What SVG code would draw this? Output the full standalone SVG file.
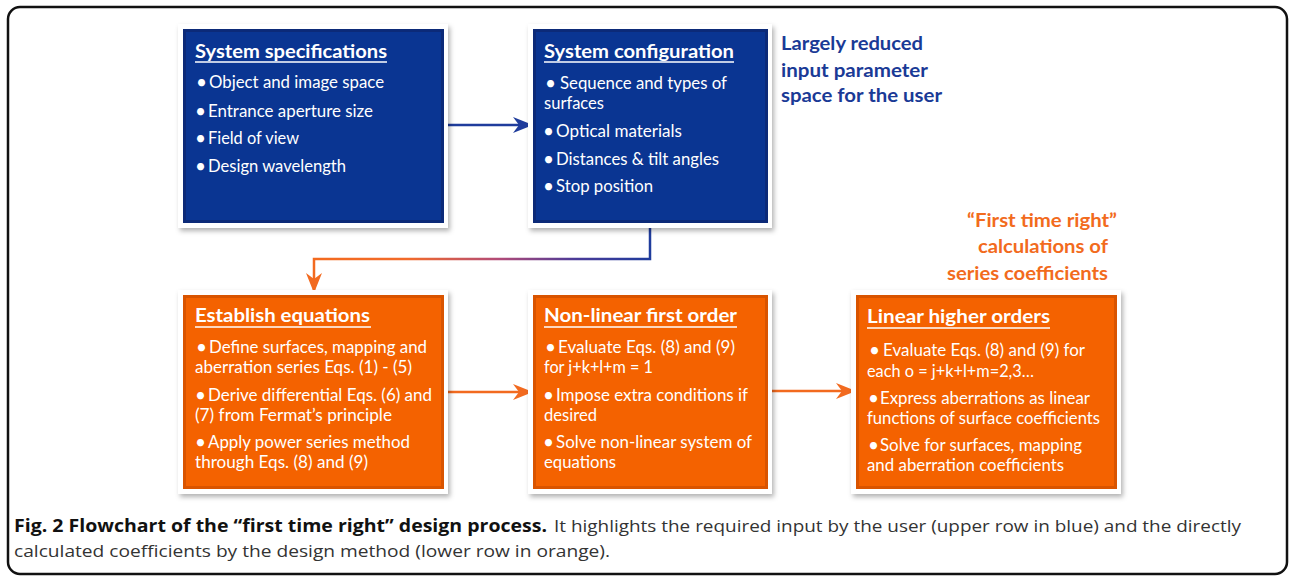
<svg xmlns="http://www.w3.org/2000/svg" width="1290" height="576" viewBox="0 0 1290 576">
<style>
.frame{fill:#fff;filter:url(#sh)}
.blue{fill:#0a3592;stroke:#0c2a78;stroke-width:3}
.orange{fill:#f46200;stroke:#d95400;stroke-width:3}
.t{font-family:Lato,"Open Sans",sans-serif;fill:#fff}
.h{font-size:19.5px;font-weight:bold}
.b{font-size:16.5px}
.d{font-size:19px}
.ul{stroke:#fff;stroke-width:1.6}
.lbl{font-family:Lato,"Open Sans",sans-serif;font-size:19px;font-weight:bold}
.cap{font-family:"Open Sans",Lato,sans-serif;font-size:17px}
</style>
<defs>
<filter id="sh" x="-10%" y="-10%" width="125%" height="125%">
<feDropShadow dx="2" dy="3" stdDeviation="2.5" flood-color="#000" flood-opacity="0.3"/>
</filter>
<linearGradient id="g" gradientUnits="userSpaceOnUse" x1="650" y1="0" x2="314" y2="0">
<stop offset="0" stop-color="#1f3c9c"/>
<stop offset="0.22" stop-color="#4a3a98"/>
<stop offset="0.45" stop-color="#b24b78"/>
<stop offset="0.72" stop-color="#f26a2a"/>
<stop offset="1" stop-color="#f36a1f"/>
</linearGradient>
<marker id="ab" viewBox="0 0 20 16" refX="19" refY="8" markerWidth="20" markerHeight="16" markerUnits="userSpaceOnUse" orient="auto">
<path d="M0,0 L20,8 L0,16 L6,8 Z" fill="#1f3c9c"/>
</marker>
<marker id="ao" viewBox="0 0 20 16" refX="19" refY="8" markerWidth="20" markerHeight="16" markerUnits="userSpaceOnUse" orient="auto">
<path d="M0,0 L20,8 L0,16 L6,8 Z" fill="#f26a1f"/>
</marker>
</defs>
<rect x="8" y="7" width="1279" height="567" rx="12" fill="#fff" stroke="#111" stroke-width="2.5"/>

<g id="connectors" fill="none">
<path d="M445,125 H532" stroke="#1f3c9c" stroke-width="2.5" marker-end="url(#ab)"/>
<path d="M650,223 V259 H314 V292" stroke="url(#g)" stroke-width="2.5" marker-end="url(#ao)"/>
<path d="M444,392 H532" stroke="#f26a1f" stroke-width="2.5" marker-end="url(#ao)"/>
<path d="M767,391 H855" stroke="#f26a1f" stroke-width="2.5" marker-end="url(#ao)"/>
</g>

<g id="spec">
<rect class="frame" x="178" y="24" width="270" height="204"/>
<rect class="blue" x="184.5" y="30.5" width="258" height="191"/>
<text class="t h" x="195" y="58" textLength="192" lengthAdjust="spacingAndGlyphs">System specifications</text>
<line class="ul" x1="195" y1="62" x2="387" y2="62"/>
<text class="t d" x="196" y="89">•</text><text class="t b" x="209" y="88" textLength="175" lengthAdjust="spacingAndGlyphs">Object and image space</text>
<text class="t d" x="195" y="118">•</text><text class="t b" x="208" y="117" textLength="165" lengthAdjust="spacingAndGlyphs">Entrance aperture size</text>
<text class="t d" x="195" y="145">•</text><text class="t b" x="208" y="144" textLength="91" lengthAdjust="spacingAndGlyphs">Field of view</text>
<text class="t d" x="195" y="173">•</text><text class="t b" x="208" y="172" textLength="138" lengthAdjust="spacingAndGlyphs">Design wavelength</text>
</g>

<g id="config">
<rect class="frame" x="528" y="24" width="244" height="204"/>
<rect class="blue" x="534.5" y="30.5" width="232" height="191"/>
<text class="t h" x="544" y="58" textLength="190" lengthAdjust="spacingAndGlyphs">System configuration</text>
<line class="ul" x1="544" y1="62" x2="734" y2="62"/>
<text class="t d" x="545" y="90">•</text><text class="t b" x="560" y="89" textLength="167" lengthAdjust="spacingAndGlyphs">Sequence and types of</text>
<text class="t b" x="544" y="109" textLength="60" lengthAdjust="spacingAndGlyphs">surfaces</text>
<text class="t d" x="543" y="138">•</text><text class="t b" x="556" y="137" textLength="126" lengthAdjust="spacingAndGlyphs">Optical materials</text>
<text class="t d" x="543" y="166">•</text><text class="t b" x="556" y="165" textLength="163" lengthAdjust="spacingAndGlyphs">Distances &amp; tilt angles</text>
<text class="t d" x="543" y="193">•</text><text class="t b" x="556" y="192" textLength="97" lengthAdjust="spacingAndGlyphs">Stop position</text>
</g>

<g id="label-user" class="lbl" fill="#1a3a96">
<text x="781" y="50" textLength="142" lengthAdjust="spacingAndGlyphs">Largely reduced</text>
<text x="781" y="77" textLength="147" lengthAdjust="spacingAndGlyphs">input parameter</text>
<text x="781" y="102" textLength="161" lengthAdjust="spacingAndGlyphs">space for the user</text>
</g>

<g id="label-first" class="lbl" fill="#f26b1d">
<text x="967" y="227" textLength="150" lengthAdjust="spacingAndGlyphs">“First time right”</text>
<text x="978" y="253" textLength="130" lengthAdjust="spacingAndGlyphs">calculations of</text>
<text x="947" y="280" textLength="161" lengthAdjust="spacingAndGlyphs">series coefficients</text>
</g>

<g id="establish">
<rect class="frame" x="178" y="290" width="270" height="204"/>
<rect class="orange" x="184.5" y="296.5" width="258" height="191"/>
<text class="t h" x="195" y="322" textLength="175" lengthAdjust="spacingAndGlyphs">Establish equations</text>
<line class="ul" x1="195" y1="327" x2="371" y2="327"/>
<text class="t d" x="196" y="354">•</text><text class="t b" x="209" y="353" textLength="218" lengthAdjust="spacingAndGlyphs">Define surfaces, mapping and</text>
<text class="t b" x="195" y="373" textLength="217" lengthAdjust="spacingAndGlyphs">aberration series Eqs. (1) - (5)</text>
<text class="t d" x="195" y="402">•</text><text class="t b" x="208" y="401" textLength="224" lengthAdjust="spacingAndGlyphs">Derive differential Eqs. (6) and</text>
<text class="t b" x="195" y="421" textLength="197" lengthAdjust="spacingAndGlyphs">(7) from Fermat’s principle</text>
<text class="t d" x="195" y="449">•</text><text class="t b" x="208" y="448" textLength="202" lengthAdjust="spacingAndGlyphs">Apply power series method</text>
<text class="t b" x="195" y="468" textLength="173" lengthAdjust="spacingAndGlyphs">through Eqs. (8) and (9)</text>
</g>

<g id="nonlinear">
<rect class="frame" x="528" y="290" width="244" height="204"/>
<rect class="orange" x="534.5" y="296.5" width="232" height="191"/>
<text class="t h" x="544" y="322" textLength="193" lengthAdjust="spacingAndGlyphs">Non-linear first order</text>
<line class="ul" x1="544" y1="327" x2="737" y2="327"/>
<text class="t d" x="545" y="354">•</text><text class="t b" x="558" y="353" textLength="177" lengthAdjust="spacingAndGlyphs">Evaluate Eqs. (8) and (9)</text>
<text class="t b" x="544" y="373" textLength="109" lengthAdjust="spacingAndGlyphs">for j+k+l+m = 1</text>
<text class="t d" x="543" y="402">•</text><text class="t b" x="556" y="401" textLength="192" lengthAdjust="spacingAndGlyphs">Impose extra conditions if</text>
<text class="t b" x="544" y="421" textLength="53" lengthAdjust="spacingAndGlyphs">desired</text>
<text class="t d" x="543" y="449">•</text><text class="t b" x="556" y="448" textLength="196" lengthAdjust="spacingAndGlyphs">Solve non-linear system of</text>
<text class="t b" x="544" y="468" textLength="72" lengthAdjust="spacingAndGlyphs">equations</text>
</g>

<g id="linear">
<rect class="frame" x="851" y="290" width="270" height="204"/>
<rect class="orange" x="857.5" y="296.5" width="258" height="191"/>
<text class="t h" x="867" y="323" textLength="183" lengthAdjust="spacingAndGlyphs">Linear higher orders</text>
<line class="ul" x1="867" y1="328" x2="1050" y2="328"/>
<text class="t d" x="869" y="357">•</text><text class="t b" x="883" y="356" textLength="202" lengthAdjust="spacingAndGlyphs">Evaluate Eqs. (8) and (9) for</text>
<text class="t b" x="867" y="377" textLength="167" lengthAdjust="spacingAndGlyphs">each o = j+k+l+m=2,3…</text>
<text class="t d" x="868" y="405">•</text><text class="t b" x="880" y="404" textLength="210" lengthAdjust="spacingAndGlyphs">Express aberrations as linear</text>
<text class="t b" x="867" y="424" textLength="233" lengthAdjust="spacingAndGlyphs">functions of surface coefficients</text>
<text class="t d" x="868" y="452">•</text><text class="t b" x="880" y="451" textLength="202" lengthAdjust="spacingAndGlyphs">Solve for surfaces, mapping</text>
<text class="t b" x="867" y="471" textLength="197" lengthAdjust="spacingAndGlyphs">and aberration coefficients</text>
</g>

<g id="caption" class="cap">
<text x="14" y="532" font-weight="bold" fill="#111" textLength="533" lengthAdjust="spacingAndGlyphs">Fig. 2 Flowchart of the “first time right” design process.</text>
<text x="554" y="532" fill="#333" textLength="687" lengthAdjust="spacingAndGlyphs">It highlights the required input by the user (upper row in blue) and the directly</text>
<text x="14" y="557" fill="#333" textLength="596" lengthAdjust="spacingAndGlyphs">calculated coefficients by the design method (lower row in orange).</text>
</g>
</svg>
